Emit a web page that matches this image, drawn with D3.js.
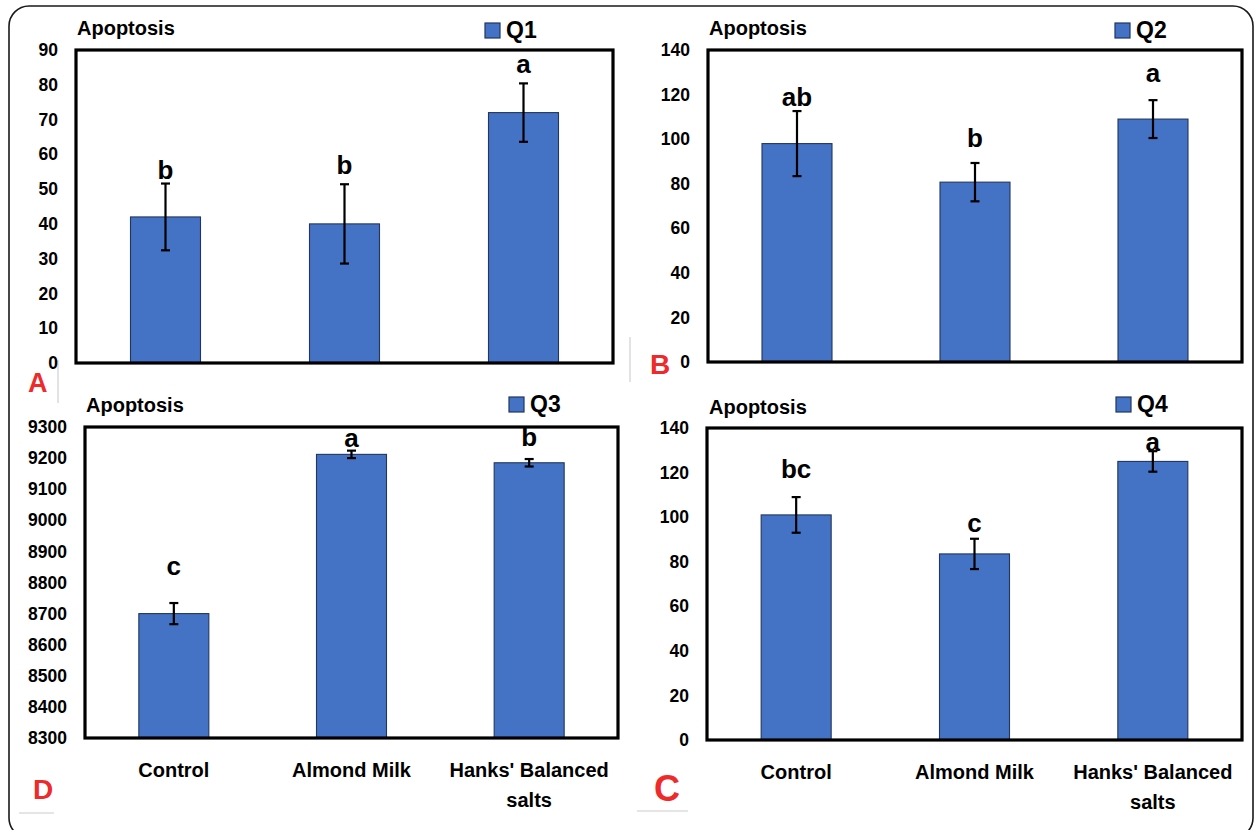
<!DOCTYPE html>
<html>
<head>
<meta charset="utf-8">
<script src="https://cdn.jsdelivr.net/npm/d3@7"></script>
<style>
  html, body { margin: 0; padding: 0; background: #fff; }
  svg { display: block; }
  text { font-family: 'Liberation Sans', Arial, sans-serif; font-weight: bold; }
</style>
</head>
<body>
<svg id="fig" width="1255" height="830"></svg>
<script>
// Treatment groups shared by every panel
const categories = ["Control", "Almond Milk", "Hanks' Balanced salts"];

// Q1 apoptosis
const q1Means   = [42, 40, 72];
const q1Errors  = [9.6, 11.4, 8.4];
const q1Letters = ["b", "b", "a"];
const q1Ticks   = [0, 10, 20, 30, 40, 50, 60, 70, 80, 90];

// Q2 apoptosis
const q2Means   = [98, 80.7, 109];
const q2Errors  = [14.6, 8.6, 8.5];
const q2Letters = ["ab", "b", "a"];
const q2Ticks   = [0, 20, 40, 60, 80, 100, 120, 140];

// Q3 apoptosis
const q3Means   = [8700, 9212, 9185];
const q3Errors  = [34, 12, 12];
const q3Letters = ["c", "a", "b"];
const q3Ticks   = [8300, 8400, 8500, 8600, 8700, 8800, 8900, 9000, 9100, 9200, 9300];

// Q4 apoptosis
const q4Means   = [101, 83.5, 125];
const q4Errors  = [8, 6.8, 4.6];
const q4Letters = ["bc", "c", "a"];
const q4Ticks   = [0, 20, 40, 60, 80, 100, 120, 140];

const yTitle = "Apoptosis";

// Panel layout (plot frame, legend, caption tag and letter spacing)
const panels = [
  { series: "Q1", means: q1Means, errors: q1Errors, letters: q1Letters, ticks: q1Ticks,
    box: { x0: 76, x1: 613, y0: 50, y1: 363 }, lift: [5, 10, 10], showCats: false,
    title: { x: 77, y: 35 }, legend: { x: 485, y: 23 },
    tag: { text: "A", x: 28, y: 392, size: 27 } },
  { series: "Q2", means: q2Means, errors: q2Errors, letters: q2Letters, ticks: q2Ticks,
    box: { x0: 708, x1: 1242, y0: 50, y1: 362 }, lift: [5, 16, 18], showCats: false,
    title: { x: 709, y: 35 }, legend: { x: 1115, y: 23 },
    tag: { text: "B", x: 650, y: 374, size: 28 } },
  { series: "Q3", means: q3Means, errors: q3Errors, letters: q3Letters, ticks: q3Ticks,
    box: { x0: 85, x1: 618, y0: 427, y1: 738 }, lift: [28, 4, 13], showCats: true,
    title: { x: 86, y: 412 }, legend: { x: 509, y: 397 },
    tag: { text: "D", x: 33, y: 799, size: 28 } },
  { series: "Q4", means: q4Means, errors: q4Errors, letters: q4Letters, ticks: q4Ticks,
    box: { x0: 707, x1: 1242, y0: 428, y1: 740 }, lift: [19, 7, 0], showCats: true,
    title: { x: 709, y: 414 }, legend: { x: 1116, y: 397 },
    tag: { text: "C", x: 654, y: 801, size: 36 } }
];

const barFill = "#4472C4";
const barEdge = "#22365e";

const svg = d3.select("#fig");
svg.append("rect").attr("width", 1255).attr("height", 830).attr("fill", "#fff");

// Rounded outer frame
svg.append("rect")
  .attr("x", 9).attr("y", 6).attr("width", 1244).attr("height", 832)
  .attr("rx", 20).attr("ry", 20)
  .attr("fill", "none").attr("stroke", "#1a1a1a").attr("stroke-width", 1.6);

// Faint separator strokes between panels
const seps = [
  [58, 360, 58, 403], [630, 337, 630, 382],
  [19, 813, 54, 813], [637, 811, 688, 811]
];
svg.selectAll("line.sep").data(seps).join("line")
  .attr("class", "sep")
  .attr("x1", d => d[0]).attr("y1", d => d[1]).attr("x2", d => d[2]).attr("y2", d => d[3])
  .attr("stroke", "#dcdcdc").attr("stroke-width", 1.6);

function wrapLabel(textSel, width) {
  textSel.each(function () {
    const t = d3.select(this);
    const words = t.text().split(/\s+/);
    const x = t.attr("x");
    t.text(null);
    let line = [];
    let tspan = t.append("tspan").attr("x", x).attr("dy", 0);
    words.forEach(w => {
      line.push(w);
      tspan.text(line.join(" "));
      if (tspan.node().getComputedTextLength() > width && line.length > 1) {
        line.pop();
        tspan.text(line.join(" "));
        line = [w];
        tspan = t.append("tspan").attr("x", x).attr("dy", 30).text(w);
      }
    });
  });
}

panels.forEach(p => {
  const g = svg.append("g");
  const b = p.box;
  const step = (b.x1 - b.x0) / categories.length;
  const barPad = 1 - 70 / step;

  const x = d3.scaleBand()
    .domain(categories)
    .range([b.x0, b.x1])
    .paddingInner(barPad)
    .paddingOuter(barPad / 2);

  const y = d3.scaleLinear()
    .domain([p.ticks[0], p.ticks[p.ticks.length - 1]])
    .range([b.y1, b.y0]);

  const rows = categories.map((c, i) => ({
    cat: c, mean: p.means[i], err: p.errors[i], letter: p.letters[i], lift: p.lift[i]
  }));

  // Bars
  g.selectAll("rect.bar").data(rows).join("rect")
    .attr("class", "bar")
    .attr("x", d => x(d.cat))
    .attr("width", x.bandwidth())
    .attr("y", d => y(d.mean))
    .attr("height", d => y(p.ticks[0]) - y(d.mean))
    .attr("fill", barFill)
    .attr("stroke", barEdge)
    .attr("stroke-width", 1.1);

  // Plot frame
  g.append("rect")
    .attr("x", b.x0).attr("y", b.y0)
    .attr("width", b.x1 - b.x0).attr("height", b.y1 - b.y0)
    .attr("fill", "none").attr("stroke", "#000").attr("stroke-width", 3.2);

  // Error bars
  const cx = d => x(d.cat) + x.bandwidth() / 2;
  const eb = g.selectAll("g.err").data(rows).join("g").attr("class", "err")
    .attr("stroke", "#000").attr("stroke-width", 2.2);
  eb.append("line")
    .attr("x1", cx).attr("x2", cx)
    .attr("y1", d => y(d.mean - d.err)).attr("y2", d => y(d.mean + d.err));
  eb.append("line")
    .attr("x1", d => cx(d) - 4.5).attr("x2", d => cx(d) + 4.5)
    .attr("y1", d => y(d.mean + d.err)).attr("y2", d => y(d.mean + d.err));
  eb.append("line")
    .attr("x1", d => cx(d) - 4.5).attr("x2", d => cx(d) + 4.5)
    .attr("y1", d => y(d.mean - d.err)).attr("y2", d => y(d.mean - d.err));

  // Significance letters
  g.selectAll("text.sig").data(rows).join("text")
    .attr("class", "sig")
    .attr("x", cx)
    .attr("y", d => y(d.mean + d.err) - d.lift)
    .attr("text-anchor", "middle")
    .attr("font-size", 26)
    .attr("fill", "#000")
    .text(d => d.letter);

  // Y axis labels
  const axis = d3.axisLeft(y).tickValues(p.ticks).tickSize(0).tickPadding(18)
    .tickFormat(d3.format("d"));
  const ag = g.append("g").attr("transform", `translate(${b.x0},0)`).call(axis);
  ag.select(".domain").remove();
  ag.selectAll("text")
    .attr("font-size", 17.5)
    .attr("font-family", "'Liberation Sans', Arial, sans-serif")
    .attr("font-weight", "bold")
    .attr("fill", "#000");

  // Category labels
  if (p.showCats) {
    g.selectAll("text.cat").data(categories).join("text")
      .attr("class", "cat")
      .attr("x", d => x(d) + x.bandwidth() / 2)
      .attr("y", b.y1 + 39)
      .attr("text-anchor", "middle")
      .attr("font-size", 20)
      .attr("fill", "#000")
      .text(d => d)
      .call(wrapLabel, step - 10);
  }

  // Axis title
  g.append("text")
    .attr("x", p.title.x).attr("y", p.title.y)
    .attr("font-size", 20).attr("fill", "#000")
    .text(yTitle);

  // Legend
  g.append("rect")
    .attr("x", p.legend.x).attr("y", p.legend.y)
    .attr("width", 15).attr("height", 15)
    .attr("fill", barFill).attr("stroke", barEdge).attr("stroke-width", 1.2);
  g.append("text")
    .attr("x", p.legend.x + 21).attr("y", p.legend.y + 15)
    .attr("font-size", 23).attr("fill", "#000")
    .text(p.series);

  // Panel tag
  g.append("text")
    .attr("x", p.tag.x).attr("y", p.tag.y)
    .attr("font-size", p.tag.size).attr("fill", "#ee2a2a")
    .text(p.tag.text);
});
</script>
</body>
</html>
